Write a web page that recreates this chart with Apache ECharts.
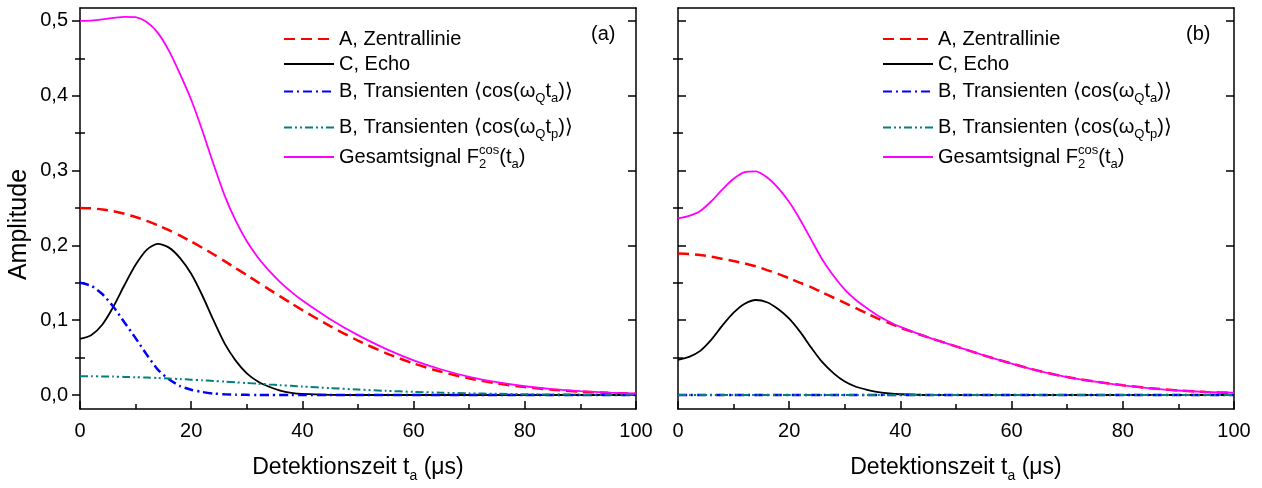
<!DOCTYPE html>
<html><head><meta charset="utf-8">
<script src="https://cdn.jsdelivr.net/npm/echarts@6/dist/echarts.min.js"></script>
<style>html,body{margin:0;padding:0;background:#fff}#c{width:1262px;height:488px}</style>
</head><body><div id="c"></div>
<script>
// time grid (µs)
const tGrid = [0,2,4,6,8,10,12,14,16,18,20,22,24,26,28,30,32,34,36,38,40,45,50,55,60,65,70,75,80,85,90,95,100];
// panel (a)
const aZentral = [0.250,0.2495,0.248,0.2456,0.2422,0.2379,0.2328,0.2269,0.2203,0.213,0.2052,0.1968,0.1881,0.179,0.1695,0.1603,0.1508,0.1412,0.1318,0.1225,0.1134,0.092,0.0727,0.0561,0.0422,0.031,0.0222,0.0155,0.0106,0.0071,0.0046,0.0029,0.0018];
const aEcho = [0.075,0.080,0.094,0.118,0.147,0.174,0.194,0.202,0.197,0.183,0.162,0.133,0.100,0.069,0.046,0.029,0.018,0.011,0.006,0.003,0.0015,0.0002,0,0,0,0,0,0,0,0,0,0,0];
const aTransA = [0.150,0.146,0.135,0.118,0.097,0.076,0.054,0.034,0.021,0.012,0.007,0.004,0.002,0.001,0.0005,0.0002,0,0,0,0,0,0,0,0,0,0,0,0,0,0,0,0,0];
const aTransP = [0.025,0.025,0.0248,0.0246,0.0242,0.0238,0.0233,0.0227,0.022,0.0213,0.0205,0.0197,0.0188,0.0179,0.017,0.016,0.0151,0.0141,0.0132,0.0123,0.0113,0.0092,0.0073,0.0056,0.0042,0.0031,0.0022,0.0016,0.0011,0.0007,0.0005,0.0003,0.0002];
const aTotal = [0.500,0.5005,0.502,0.504,0.5055,0.505,0.4985,0.484,0.460,0.429,0.3947,0.3535,0.3089,0.2669,0.233,0.2055,0.1839,0.1663,0.151,0.1378,0.1262,0.1014,0.080,0.0617,0.0464,0.0341,0.0244,0.0171,0.0117,0.0078,0.0051,0.0032,0.002];
// panel (b)
const bZentral = [0.189,0.1885,0.187,0.185,0.182,0.179,0.176,0.172,0.167,0.162,0.156,0.150,0.144,0.137,0.130,0.123,0.116,0.109,0.102,0.096,0.090,0.077,0.065,0.053,0.042,0.032,0.024,0.018,0.013,0.009,0.006,0.004,0.003];
const bEcho = [0.047,0.051,0.059,0.074,0.093,0.110,0.122,0.127,0.124,0.115,0.102,0.084,0.063,0.0435,0.029,0.018,0.011,0.007,0.004,0.002,0.001,0,0,0,0,0,0,0,0,0,0,0,0];
const bTransA = [0,0,0,0,0,0,0,0,0,0,0,0,0,0,0,0,0,0,0,0,0,0,0,0,0,0,0,0,0,0,0,0,0];
const bTransP = [0,0,0,0,0,0,0,0,0,0,0,0,0,0,0,0,0,0,0,0,0,0,0,0,0,0,0,0,0,0,0,0,0];
const bTotal = [0.236,0.2395,0.246,0.259,0.275,0.289,0.298,0.299,0.291,0.277,0.258,0.234,0.207,0.1805,0.159,0.141,0.127,0.116,0.106,0.098,0.091,0.077,0.065,0.053,0.042,0.032,0.024,0.018,0.013,0.009,0.006,0.004,0.003];
// axis ticks
const yMajor = [0,0.1,0.2,0.3,0.4,0.5];
const yMinor = [0.05,0.15,0.25,0.35,0.45];
const legendLabels = {
  A: 'A, Zentrallinie',
  C: 'C, Echo',
  BA: 'B, Transienten \u27E8cos(\u03C9{sub|Q}t{sub|a})\u27E9',
  BP: 'B, Transienten \u27E8cos(\u03C9{sub|Q}t{sub|p})\u27E9',
  T: 'Gesamtsignal F{sub0|2}{sup|cos}(t{sub|a})'
};

const FONT = '"Liberation Sans", Arial, sans-serif';
const YMIN = -0.0187, YMAX = 0.5173;
const lineC = {color:'#000', width:1.5};
const rich = {
  sub: {fontSize:13, fontFamily:FONT, color:'#000', padding:[14,0,0,0], verticalAlign:'top'},
  sub0: {fontSize:13, fontFamily:FONT, color:'#000', padding:[14,0,0,0], verticalAlign:'top', width:0},
  sup: {fontSize:13, fontFamily:FONT, color:'#000', verticalAlign:'top'}
};
const pairs = arr => tGrid.map((x,i)=>[x, arr[i]]);

const styles = {
  A: {color:'#ff0000', width:2.5, type:[11,6]},
  C: {color:'#000000', width:1.8, type:'solid'},
  BA: {color:'#0000ff', width:2.5, type:[9,4,2,4]},
  BP: {color:'#008080', width:2, type:[8,3,2,3,2,3]},
  T: {color:'#ff00ff', width:1.8, type:'solid'}
};

function mkSeries(prefix, gi, data) {
  return Object.keys(data).map((k)=>({
    name: prefix + k, type:'line', xAxisIndex: gi*2, yAxisIndex: gi*4,
    data: pairs(data[k]), symbol:'none', showSymbol:false, smooth:0.25,
    lineStyle: styles[k], itemStyle:{color: styles[k].color}, animation:false
  }));
}
const series = [
  ...mkSeries('a', 0, {A:aZentral, C:aEcho, BA:aTransA, BP:aTransP, T:aTotal}),
  ...mkSeries('b', 1, {A:bZentral, C:bEcho, BA:bTransA, BP:bTransP, T:bTotal})
];

const grids = [
  {left:80, top:8, width:556, height:402},
  {left:678, top:8, width:556, height:402}
];

const xAxes = [], yAxes = [];
[0,1].forEach(gi => {
  xAxes.push({
    gridIndex:gi, type:'value', position:'bottom', min:0, max:100, interval:20,
    axisLine:{show:true, onZero:false, lineStyle:lineC},
    axisTick:{show:true, inside:true, length:8, lineStyle:lineC},
    minorTick:{show:true, splitNumber:2, length:5, lineStyle:lineC},
    axisLabel:{show:true, fontSize:20, fontFamily:FONT, color:'#000', margin:12},
    splitLine:{show:false},
    name:'Detektionszeit t{sub|a} (\u03BCs)', nameLocation:'middle', nameGap:44,
    nameTextStyle:{fontSize:23, fontFamily:FONT, color:'#000', rich:{sub:{fontSize:14, fontFamily:FONT, color:'#000', padding:[16,0,0,0], verticalAlign:'top'}}}
  });
  xAxes.push({
    gridIndex:gi, type:'value', position:'top', min:0, max:100, interval:20,
    axisLine:{show:true, onZero:false, lineStyle:lineC},
    axisTick:{show:false},
    axisLabel:{show:false}, splitLine:{show:false}
  });
  const leftMain = {
    gridIndex:gi, type:'value', position:'left', min:YMIN, max:YMAX,
    axisLine:{show:true, onZero:false, lineStyle:lineC},
    axisTick:{show:true, inside: gi===1, length:8, customValues:yMajor, lineStyle:lineC},
    axisLabel:{show: gi===0, customValues:yMajor, fontSize:20, fontFamily:FONT, color:'#000', margin:12,
      formatter: v => v.toFixed(1).replace('.', ',')},
    splitLine:{show:false}
  };
  if (gi===0) {
    leftMain.name = 'Amplitude'; leftMain.nameLocation = 'middle'; leftMain.nameGap = 48;
    leftMain.nameTextStyle = {fontSize:25, fontFamily:FONT, color:'#000', padding:[0,32,0,0]};
  }
  yAxes.push(leftMain);
  yAxes.push({
    gridIndex:gi, type:'value', position:'left', min:YMIN, max:YMAX,
    axisLine:{show:false}, axisLabel:{show:false}, splitLine:{show:false},
    axisTick:{show:true, inside:true, length:5, customValues:yMinor, lineStyle:lineC}
  });
  yAxes.push({
    gridIndex:gi, type:'value', position:'right', min:YMIN, max:YMAX,
    axisLine:{show:true, onZero:false, lineStyle:lineC}, axisLabel:{show:false}, splitLine:{show:false},
    axisTick:{show:true, inside:true, length:8, customValues:yMajor, lineStyle:lineC}
  });
  yAxes.push({
    gridIndex:gi, type:'value', position:'right', min:YMIN, max:YMAX,
    axisLine:{show:false}, axisLabel:{show:false}, splitLine:{show:false},
    axisTick:{show:true, inside:true, length:5, customValues:yMinor, lineStyle:lineC}
  });
});

const legendRows = {A:40, C:65, BA:95, BP:131, T:157};
const legends = [];
[['a',283],['b',882]].forEach(([p, lx]) => {
  Object.keys(legendRows).forEach(k => {
    const rowH = (k==='A'||k==='C') ? 22 : 27;
    legends.push({
      data:[p+k], left:lx, top: legendRows[k] - rowH/2, padding:0, itemWidth:50, itemHeight:14,
      selectedMode:false, itemGap:0, itemStyle:{opacity:0},
      textStyle:{fontSize:20, fontFamily:FONT, color:'#000', rich:rich},
      formatter: name => legendLabels[name.slice(1)]
    });
  });
});

const option = {
  animation:false,
  backgroundColor:'#fff',
  textStyle:{fontFamily:FONT},
  title:[
    {text:'(a)', left:591, top:24, padding:0, textStyle:{fontSize:20, fontWeight:'normal', fontFamily:FONT, color:'#000'}},
    {text:'(b)', left:1186, top:24, padding:0, textStyle:{fontSize:20, fontWeight:'normal', fontFamily:FONT, color:'#000'}}
  ],
  grid: grids,
  xAxis: xAxes,
  yAxis: yAxes,
  legend: legends,
  series: series
};
const chart = echarts.init(document.getElementById('c'));
chart.setOption(option);
</script>
</body></html>
